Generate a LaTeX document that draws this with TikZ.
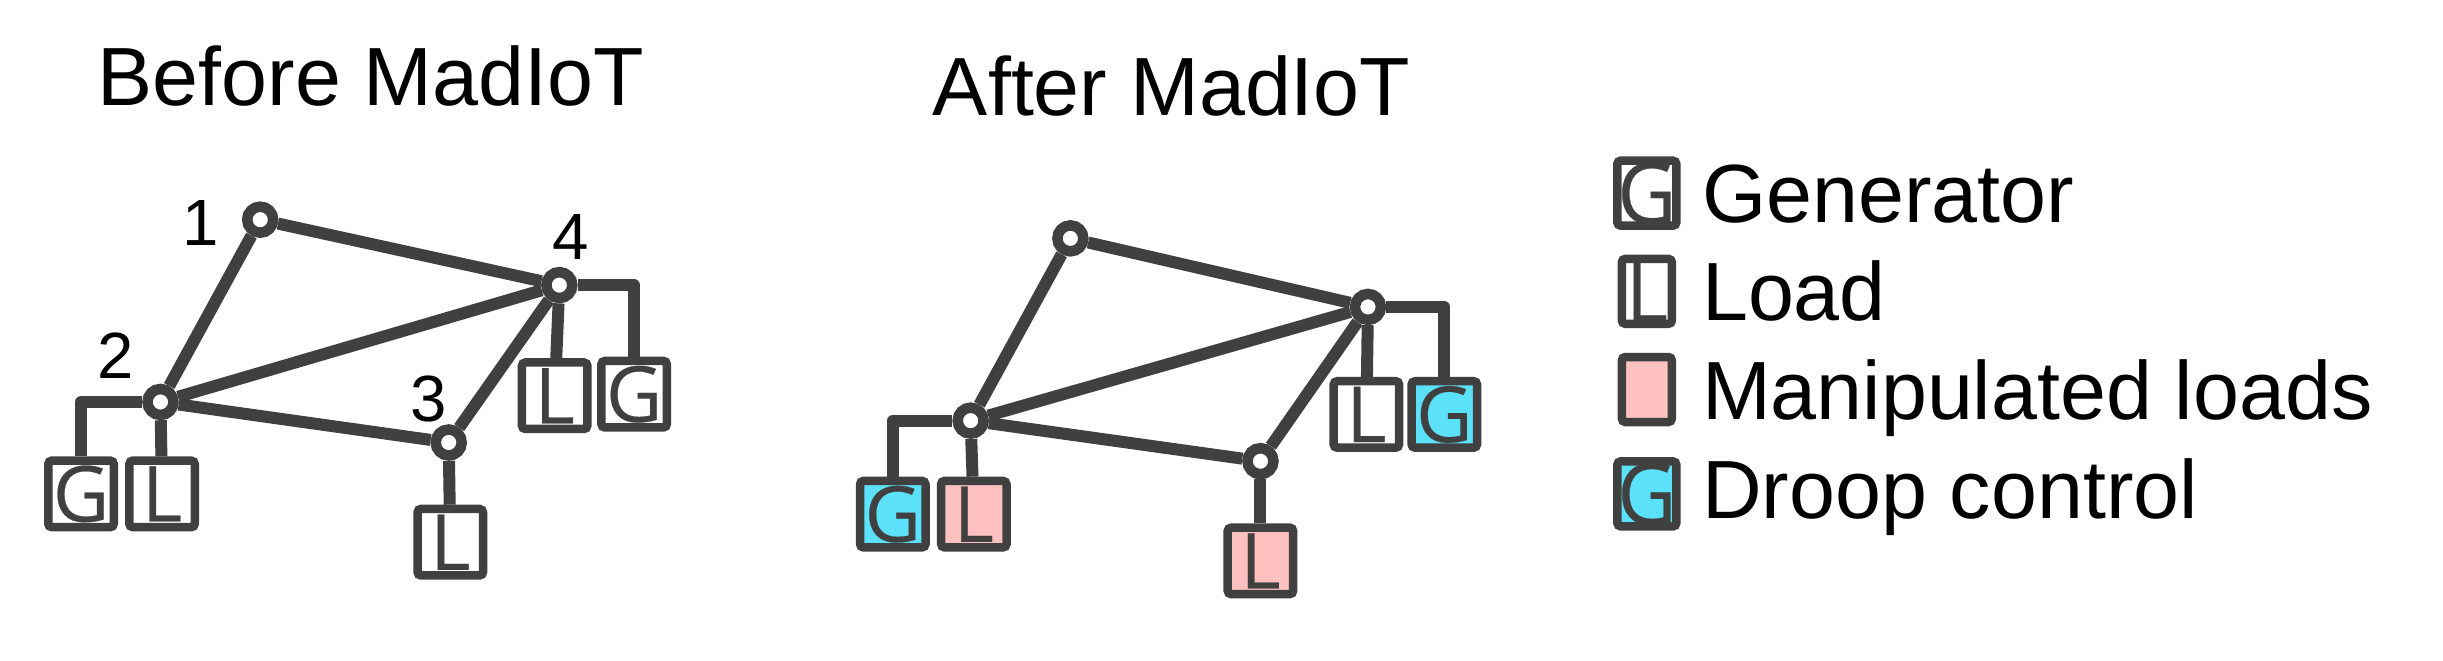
\documentclass[tikz,border=0pt]{standalone}
\usepackage{fontspec}
\setmainfont{Liberation Sans}
\newfontfamily\boxfont[RawFeature={embolden=.3}]{Open Sans}
\usetikzlibrary{positioning}

\definecolor{linegray}{HTML}{404040}
\definecolor{droopcyan}{HTML}{5CE1FA}
\definecolor{attackpink}{HTML}{FFC0C0}

\tikzset{
  bus/.style={draw=linegray, fill=white, circle, line width=.105cm, minimum size=.26cm, inner sep=0pt},
  unitbox/.style={draw=linegray, line width=.085cm, rounded corners=1pt, minimum width=.655cm, minimum height=.665cm, inner sep=0pt, text=linegray, font=\boxfont\fontsize{22}{22}\selectfont},
  legendbox/.style={unitbox, minimum width=.5cm, minimum height=.65cm},
  wire/.style={draw=linegray, line width=.12cm, line join=round},
  title/.style={anchor=base, font=\fontsize{23.5}{26}\selectfont},
  legendtext/.style={anchor=base west, inner sep=0pt, font=\fontsize{23.5}{26}\selectfont},
  buslabel/.style={font=\fontsize{18.6}{20}\selectfont},
}

\begin{document}
\begin{tikzpicture}[x=.01558cm, y=-.01558cm]
\useasboundingbox (0,0) rectangle (1568,424.2);

\node[title] at (238, 68) (t1) {Before MadIoT};
\node[title] at (752, 74) (t2) {After MadIoT};

% before
\node[bus] at (167, 141) (a1) {};
\node[bus] at (103, 258) (a2) {};
\node[bus] at (288, 284) (a3) {};
\node[bus] at (359, 183) (a4) {};

\node[buslabel] at (129, 143) (la1) {1};
\node[buslabel] at (74, 228) (la2) {2};
\node[buslabel] at (275, 256) (la3) {3};
\node[buslabel] at (366, 152) (la4) {4};

\node[unitbox, fill=white] at (52, 317) (ga2) {G};
\node[unitbox, fill=white] at (104, 317) (da2) {L};
\node[unitbox, fill=white] at (289, 348) (da3) {L};
\node[unitbox, fill=white] at (356, 254) (da4) {L};
\node[unitbox, fill=white] at (407, 253) (ga4) {G};

\draw[wire] (a1) -- (a4);
\draw[wire] (a1) -- (a2);
\draw[wire] (a2) -- (a4);
\draw[wire] (a2) -- (a3);
\draw[wire] (a3) -- (a4);
\draw[wire] (a2) -| (ga2);
\draw[wire] (a2) -- (da2);
\draw[wire] (a3) -- (da3);
\draw[wire] (a4) -- (da4);
\draw[wire] (a4) -| (ga4);

% after
\node[bus] at (687, 153) (b1) {};
\node[bus] at (623, 270) (b2) {};
\node[bus] at (809, 296) (b3) {};
\node[bus] at (878, 197) (b4) {};

\node[unitbox, fill=droopcyan] at (573, 330) (gb2) {G};
\node[unitbox, fill=attackpink] at (625, 330) (db2) {L};
\node[unitbox, fill=attackpink] at (809, 360) (db3) {L};
\node[unitbox, fill=white] at (877, 266) (db4) {L};
\node[unitbox, fill=droopcyan] at (927, 266) (gb4) {G};

\draw[wire] (b1) -- (b4);
\draw[wire] (b1) -- (b2);
\draw[wire] (b2) -- (b4);
\draw[wire] (b2) -- (b3);
\draw[wire] (b3) -- (b4);
\draw[wire] (b2) -| (gb2);
\draw[wire] (b2) -- (db2);
\draw[wire] (b3) -- (db3);
\draw[wire] (b4) -- (db4);
\draw[wire] (b4) -| (gb4);

% legend
\node[legendbox, fill=white] at (1057, 124) (k1) {\scalebox{1.05}[1.1]{G}};
\node[legendbox, fill=white] at (1057, 187) (k2) {\scalebox{1.05}[1.1]{L}};
\node[legendbox, fill=attackpink] at (1057, 250) (k3) {};
\node[legendbox, fill=droopcyan] at (1057, 317) (k4) {\scalebox{1.05}[1.1]{G}};

\node[legendtext] at (1092, 143) (x1) {Generator};
\node[legendtext] at (1092, 205.5) (x2) {Load};
\node[legendtext] at (1092, 269) (x3) {Manipulated loads};
\node[legendtext] at (1092, 332.5) (x4) {Droop control};

\end{tikzpicture}
\end{document}
